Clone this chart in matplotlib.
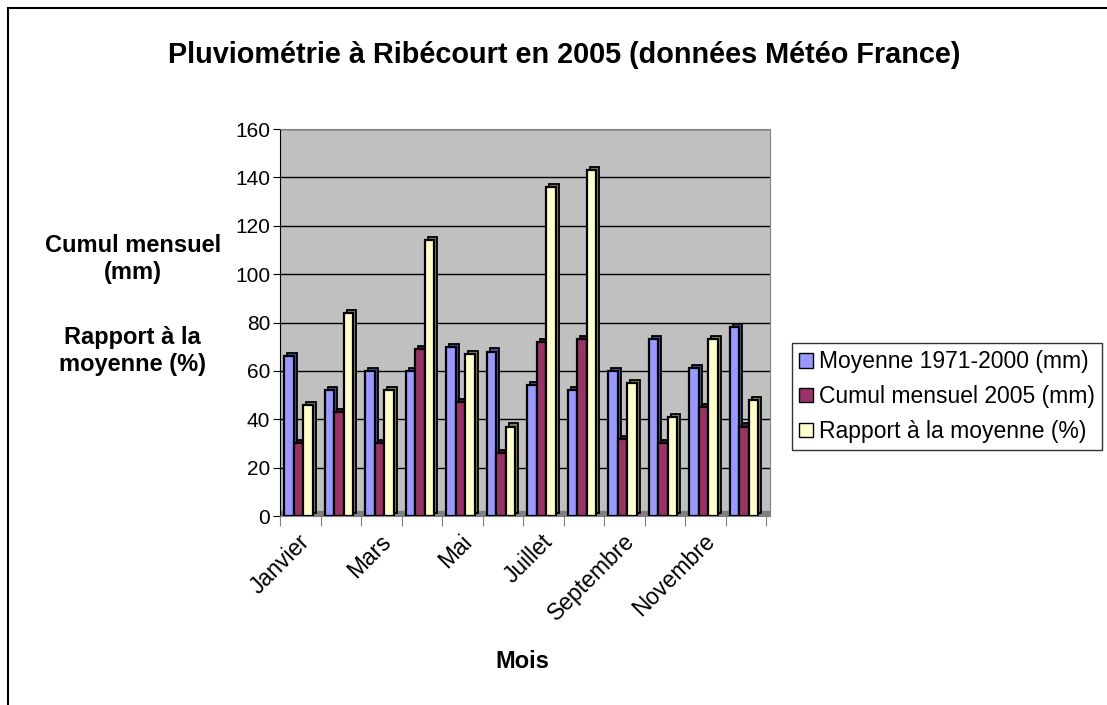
import numpy as np
import matplotlib.pyplot as plt
from matplotlib.patches import Patch, Rectangle

plt.rcParams['font.family'] = ['Liberation Sans', 'DejaVu Sans']

# data
mois = ["Janvier", "Février", "Mars", "Avril", "Mai", "Juin", "Juillet",
        "Août", "Septembre", "Octobre", "Novembre", "Décembre"]
moyenne = [66, 52, 60, 60, 70, 68, 54, 52, 60, 73, 61, 78]
cumul_2005 = [30, 43, 30, 69, 47, 26, 72, 73, 32, 30, 45, 37]
rapport = [46, 84, 52, 114, 67, 37, 136, 143, 55, 41, 73, 48]

series = [
    ("Moyenne 1971-2000 (mm)", moyenne, "#9999FF", "#4D4D99"),
    ("Cumul mensuel 2005 (mm)", cumul_2005, "#993366", "#4D1A33"),
    ("Rapport à la moyenne (%)", rapport, "#FFFFCC", "#808066"),
]

fig = plt.figure(figsize=(11.07, 7.05), dpi=100)
ax = fig.add_axes([0.253, 0.268, 0.443, 0.549])
ax.set_facecolor("#C0C0C0")

x = np.arange(len(mois)) + 0.45
w = 0.235
dx, dy = 0.075, 1.3

# floor strip
ax.axhspan(0, 2.0, color="#808080", zorder=1)

for k, (name, vals, col, side) in enumerate(series):
    pos = x + (k - 1) * w
    # side/top face for a little 3d look
    ax.bar(pos + dx, vals, w, bottom=dy, color=side, edgecolor="black",
           linewidth=1.3, zorder=3 + k * 2)
    ax.bar(pos, vals, w, color=col, edgecolor="black", linewidth=1.6,
           zorder=4 + k * 2)

ax.set_xlim(0, 12.1)
ax.set_ylim(0, 160)
ax.set_yticks(range(0, 161, 20))
ax.yaxis.grid(True, color="black", linewidth=1)
ax.set_axisbelow(True)
ax.tick_params(axis="y", labelsize=15, length=5, direction="out", pad=2)

ax.set_xticks(np.arange(0, 13))
ax.set_xticklabels([])
ax.set_xticks(x[::2], minor=True)
ax.set_xticklabels(mois[::2], minor=True, rotation=45, ha="right",
                   va="top", rotation_mode="anchor", fontsize=16.5)
ax.tick_params(axis="x", which="major", length=7, color="#808080")
ax.tick_params(axis="x", which="minor", length=0, pad=10)

for s in ["top", "right"]:
    ax.spines[s].set_color("#808080")
ax.spines["bottom"].set_color("#808080")
ax.spines["left"].set_color("black")

fig.text(0.51, 1 - 55 / 705, "Pluviométrie à Ribécourt en 2005 (données Météo France)",
         ha="center", va="center", fontsize=20.8, fontweight="bold")
fig.text(0.12, 1 - 259 / 705, "Cumul mensuel\n(mm)", ha="center", va="center",
         fontsize=17, fontweight="bold", linespacing=1.25)
fig.text(0.12, 1 - 351 / 705, "Rapport à la\nmoyenne (%)", ha="center", va="center",
         fontsize=17, fontweight="bold", linespacing=1.25)
fig.text(0.472, 1 - 662 / 705, "Mois", ha="center", va="center",
         fontsize=17, fontweight="bold")

handles = [Patch(facecolor=c, edgecolor="black", label=n) for n, _, c, _ in series]
leg = fig.legend(handles=handles, loc="upper left",
                 bbox_to_anchor=(792 / 1107, 1 - 343 / 705), fontsize=16.5,
                 frameon=True, fancybox=False, handlelength=0.6,
                 handleheight=0.6, handletextpad=0.25, borderpad=0.32,
                 labelspacing=0.52, borderaxespad=0)
leg.get_frame().set_edgecolor("black")
leg.get_frame().set_linewidth(1)

# outer chart frame
fig.patches.append(Rectangle((8 / 1107, -0.1), 1.2, 1 - 8 / 705 + 0.1,
                             transform=fig.transFigure, fill=False,
                             edgecolor="black", linewidth=1.5))

fig.savefig("out.png", dpi=100)
